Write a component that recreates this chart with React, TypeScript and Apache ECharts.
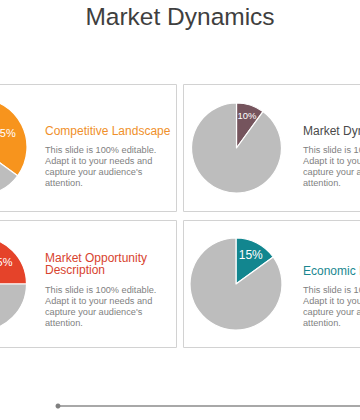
import React, { useEffect, useRef } from "react";
import * as echarts from "echarts";

const chartTitle = "Market Dynamics";
const categories = ["Competitive Landscape", "Market Dynamics", "Market Opportunity\nDescription", "Economic Environment"];
const shares = [35, 10, 25, 15];
const rest = shares.map((s) => 100 - s);
const sliceColors = ["#f7941d", "#75545d", "#e5432a", "#12868f"];
const titleColors = ["#f0902a", "#4a4a4a", "#d8432e", "#1a8790"];
const bodyText = "This slide is 100% editable.\nAdapt it to your needs and\ncapture your audience's\nattention.";

// layout (pixels)
const pieCenters: [number, number][] = [[-22, 147], [236.5, 148], [-20.5, 284], [236, 284]];
const pieRadii = [49, 45, 47, 46];
const labelDist = [27, 31, 28, 29.5];
const labelSizes = [11, 9.5, 11, 12];
const textX = [45, 303, 45, 303];
const titleY = [131, 131, 251.5, 270.5];
const bodyY = [144, 144, 284.5, 284.5];
const FONT = "'Liberation Sans', Arial, sans-serif";

export default function App() {
  const ref = useRef<HTMLDivElement>(null);
  useEffect(() => {
    if (!ref.current) return;
    const chart = echarts.init(ref.current, null, { renderer: "svg" });
    const series: any[] = [];
    shares.forEach((s, i) => {
      series.push({
        type: "pie",
        center: pieCenters[i],
        radius: [0, pieRadii[i]],
        startAngle: 90,
        clockwise: true,
        silent: true,
        label: { show: false },
        labelLine: { show: false },
        itemStyle: { borderColor: "#ffffff", borderWidth: 1.2 },
        data: [
          { name: "share", value: s, itemStyle: { color: sliceColors[i] } },
          { name: "rest", value: rest[i], itemStyle: { color: "#bdbdbd" } },
        ],
        z: 2,
      });
      // label carrier: transparent ring so the inside label sits at the wanted radius
      series.push({
        type: "pie",
        center: pieCenters[i],
        radius: [labelDist[i] - 8, labelDist[i] + 8],
        startAngle: 90,
        clockwise: true,
        silent: true,
        itemStyle: { color: "rgba(0,0,0,0)", borderWidth: 0 },
        labelLine: { show: false },
        data: [
          {
            name: "share",
            value: s,
            label: {
              show: true,
              position: "inside",
              formatter: "{c}%",
              color: "#ffffff",
              fontSize: labelSizes[i],
              fontFamily: FONT,
            },
          },
          { name: "rest", value: rest[i], label: { show: false } },
        ],
        z: 3,
      });
    });

    const graphics: any[] = [
      {
        type: "text",
        x: 180,
        y: 16,
        style: {
          text: chartTitle,
          fill: "#3f3f3f",
          font: `24.5px ${FONT}`,
          textAlign: "center",
          textVerticalAlign: "middle",
        },
      },
      { type: "rect", shape: { x: -70.5, y: 84.5, width: 247, height: 127 }, style: { fill: "none", stroke: "#d2d2d2", lineWidth: 1 } },
      { type: "rect", shape: { x: 183.5, y: 84.5, width: 247, height: 127 }, style: { fill: "none", stroke: "#d2d2d2", lineWidth: 1 } },
      { type: "rect", shape: { x: -70.5, y: 220.5, width: 247, height: 127 }, style: { fill: "none", stroke: "#d2d2d2", lineWidth: 1 } },
      { type: "rect", shape: { x: 183.5, y: 220.5, width: 247, height: 127 }, style: { fill: "none", stroke: "#d2d2d2", lineWidth: 1 } },
      { type: "line", shape: { x1: 58, y1: 406, x2: 360, y2: 406 }, style: { stroke: "#a8a8a8", lineWidth: 2 } },
      { type: "circle", shape: { cx: 58, cy: 406, r: 2.5 }, style: { fill: "#7f7f7f" } },
    ];
    categories.forEach((c, i) => {
      const multi = c.includes("\n");
      graphics.push({
        type: "text",
        x: textX[i],
        y: titleY[i],
        style: {
          text: c,
          fill: titleColors[i],
          font: `12px ${FONT}`,
          lineHeight: 12.5,
          textAlign: "left",
          textVerticalAlign: multi ? "top" : "middle",
        },
      });
      graphics.push({
        type: "text",
        x: textX[i],
        y: bodyY[i],
        style: {
          text: bodyText,
          fill: "#7f7f7f",
          font: `9.2px ${FONT}`,
          lineHeight: 11,
          textAlign: "left",
          textVerticalAlign: "top",
        },
      });
    });

    chart.setOption({
      animation: false,
      backgroundColor: "#ffffff",
      series,
      graphic: graphics,
    });
    return () => chart.dispose();
  }, []);
  return <div ref={ref} style={{ position: "fixed", left: 0, top: 0, width: 360, height: 420 }} />;
}
